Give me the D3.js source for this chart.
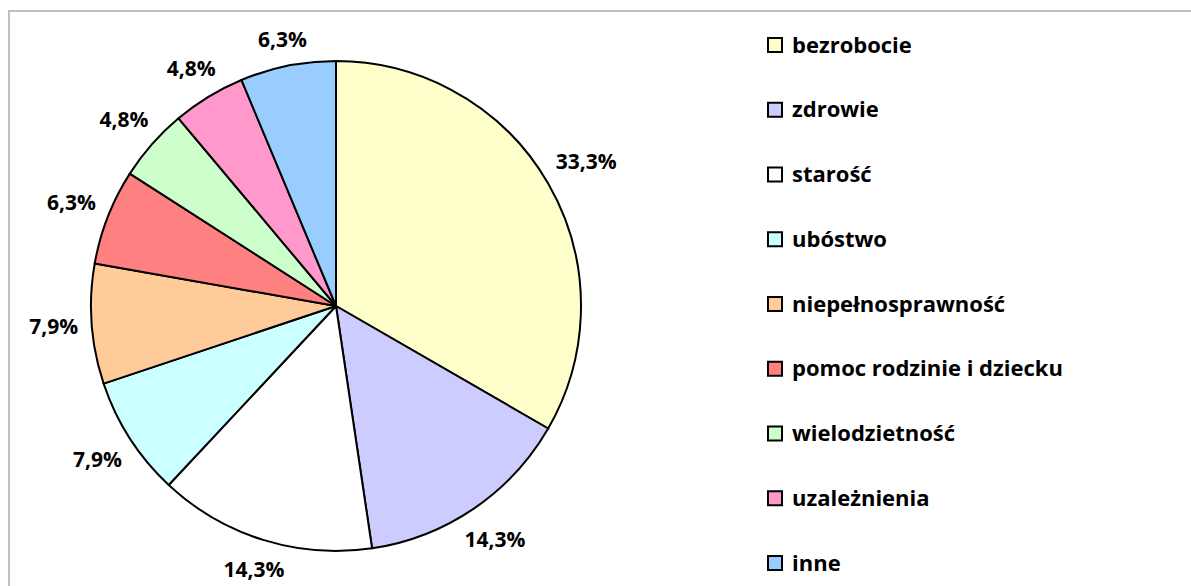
<!DOCTYPE html>
<html>
<head>
<meta charset="utf-8">
<script src="https://d3js.org/d3.v7.min.js"></script>
<style>
  body { margin: 0; background: #fff; }
  text { font-family: "Open Sans", Lato, sans-serif; font-weight: bold; fill: #000; }
</style>
</head>
<body>
<div id="chart"></div>
<script>
// categories, values (percent) and colours, clockwise from 12 o'clock
var categories = ["bezrobocie", "zdrowie", "starość", "ubóstwo", "niepełnosprawność",
                  "pomoc rodzinie i dziecku", "wielodzietność", "uzależnienia", "inne"];
var values = [33.3, 14.3, 14.3, 7.9, 7.9, 6.3, 4.8, 4.8, 6.3];
var labels = ["33,3%", "14,3%", "14,3%", "7,9%", "7,9%", "6,3%", "4,8%", "4,8%", "6,3%"];
var colors = ["#FFFFCC", "#CCCCFF", "#FFFFFF", "#CCFFFF", "#FFCC99",
              "#FF8080", "#CCFFCC", "#FF99CC", "#99CCFF"];

var width = 1191, height = 586;
var cx = 336, cy = 306, radius = 245;

var svg = d3.select("#chart").append("svg")
    .attr("width", width)
    .attr("height", height);

// chart area frame (right and bottom edges fall outside the picture)
svg.append("rect")
    .attr("x", 9).attr("y", 11)
    .attr("width", 1300).attr("height", 700)
    .attr("fill", "none")
    .attr("stroke", "#c0c0c0")
    .attr("stroke-width", 2);

var data = categories.map(function (c, i) {
    return { name: c, value: values[i], label: labels[i], color: colors[i] };
});

var pie = d3.pie().sort(null).value(function (d) { return d.value; });
var arc = d3.arc().innerRadius(0).outerRadius(radius);

var g = svg.append("g").attr("transform", "translate(" + cx + "," + cy + ")");

var arcs = pie(data);

g.selectAll("path")
    .data(arcs)
    .enter().append("path")
    .attr("d", arc)
    .attr("fill", function (d) { return d.data.color; })
    .attr("stroke", "#000")
    .attr("stroke-width", 2)
    .attr("stroke-linejoin", "round");

// labels sit outside the pie, pushed out by the half-size of their box
var gap = 13, halfH = 9;
g.selectAll("text.pct")
    .data(arcs)
    .enter().append("text")
    .attr("class", "pct")
    .attr("text-anchor", "middle")
    .attr("dy", "0.35em")
    .style("font-size", "21px")
    .text(function (d) { return d.data.label; })
    .attr("transform", function (d) {
        var a = (d.startAngle + d.endAngle) / 2;
        var halfW = this.getBBox().width / 2;
        var r = radius + gap + halfW * Math.abs(Math.sin(a)) + halfH * Math.abs(Math.cos(a));
        return "translate(" + (r * Math.sin(a)) + "," + (-r * Math.cos(a)) + ")";
    });

// legend
var legendY = d3.scalePoint()
    .domain(categories)
    .range([45, 563]);

var legend = svg.append("g").selectAll("g")
    .data(data)
    .enter().append("g")
    .attr("transform", function (d) { return "translate(768," + legendY(d.name) + ")"; });

legend.append("rect")
    .attr("x", 0).attr("y", -7)
    .attr("width", 14).attr("height", 14)
    .attr("fill", function (d) { return d.color; })
    .attr("stroke", "#000")
    .attr("stroke-width", 2);

legend.append("text")
    .attr("x", 24)
    .attr("dy", "0.35em")
    .style("font-size", "22px")
    .text(function (d) { return d.name; });
</script>
</body>
</html>
